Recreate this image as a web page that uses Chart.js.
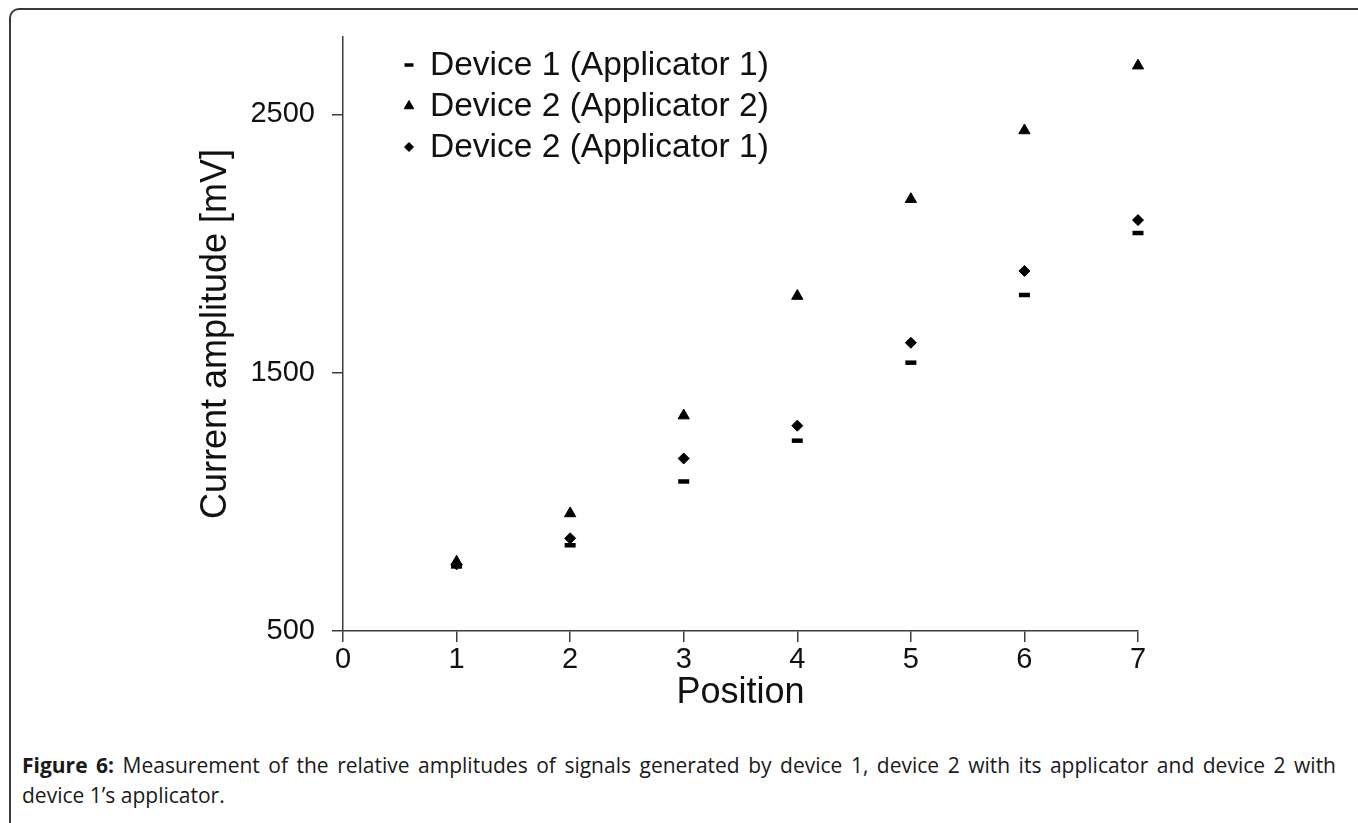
<!DOCTYPE html>
<html>
<head>
<meta charset="utf-8">
<script src="https://cdn.jsdelivr.net/npm/chart.js@4.4.1/dist/chart.umd.min.js"></script>
<style>
  html, body { margin: 0; padding: 0; background: #fff; width: 1358px; height: 823px; overflow: hidden; }
  #frame { position: absolute; left: 9px; top: 8px; width: 1400px; height: 900px; border: 2px solid #3a3a3a; border-radius: 10px; box-sizing: border-box; }
  #wrap { position: absolute; left: 0; top: 0; width: 1358px; height: 740px; }
  #caption { position: absolute; left: 22px; top: 750px; width: 1314px; font-family: "Open Sans", sans-serif; font-size: 21px; line-height: 30px; color: #1a1a1a; text-align: justify; }
  #caption b { font-weight: 700; }
</style>
</head>
<body>
<div id="frame"></div>
<div id="wrap"><canvas id="c"></canvas></div>
<div id="caption"><b>Figure 6:</b> Measurement of the relative amplitudes of signals generated by device 1, device 2 with its applicator and device 2 with device 1’s applicator.</div>
<script>
const positions = [1, 2, 3, 4, 5, 6, 7];
const device1App1 = [750, 832, 1079, 1237, 1539, 1801, 2041];
const device2App2 = [768, 955, 1334, 1797, 2172, 2438, 2689];
const device2App1 = [758, 859, 1168, 1295, 1616, 1894, 2091];
const seriesLabels = ['Device 1 (Applicator 1)', 'Device 2 (Applicator 2)', 'Device 2 (Applicator 1)'];
const yTickValues = [500, 1500, 2500];
const xTickValues = [0, 1, 2, 3, 4, 5, 6, 7];

const toPts = arr => positions.map((p, i) => ({ x: p, y: arr[i] }));
const FONT = '"Liberation Sans", Arial, sans-serif';
const AX = '#3c3c3c';

const legendPlugin = {
  id: 'insideLegend',
  afterDraw(chart) {
    const ctx = chart.ctx;
    const rows = [65, 106, 147];
    chart.data.datasets.forEach((ds, i) => {
      const y = rows[i];
      ctx.save();
      ctx.fillStyle = '#000';
      ctx.strokeStyle = '#000';
      ctx.lineWidth = ds.legendBorder;
      if (Chart.helpers && Chart.helpers.drawPoint) {
        Chart.helpers.drawPoint(ctx, { pointStyle: ds.pointStyle, radius: ds.legendRadius, borderWidth: ds.legendBorder, rotation: 0 }, 409, y);
      }
      ctx.restore();
      ctx.save();
      ctx.font = '33.5px ' + FONT;
      ctx.fillStyle = '#111';
      ctx.textBaseline = 'middle';
      ctx.fillText(ds.label, 430, y + 1);
      ctx.restore();
    });
  }
};

const mk = (label, data, style, r, bw, lr, lb) => ({
  label, data: toPts(data), pointStyle: style, pointRadius: r, pointHoverRadius: r,
  backgroundColor: '#000', borderColor: '#000', borderWidth: bw, showLine: false, clip: false,
  legendRadius: lr, legendBorder: lb
});

new Chart(document.getElementById('c'), {
  type: 'scatter',
  data: {
    datasets: [
      mk(seriesLabels[0], device1App1, 'line', 5.5, 4.5, 4.5, 3.5),
      mk(seriesLabels[1], device2App2, 'triangle', 6.5, 1, 5.5, 1),
      mk(seriesLabels[2], device2App1, 'rectRot', 5.5, 1, 4.5, 1)
    ]
  },
  options: {
    responsive: true,
    maintainAspectRatio: false,
    animation: false,
    events: [],
    layout: { padding: { left: 190, top: 37, right: 220, bottom: 21 } },
    plugins: { legend: { display: false }, tooltip: { enabled: false } },
    scales: {
      x: {
        type: 'linear', min: 0, max: 7,
        afterBuildTicks: s => { s.ticks = xTickValues.map(v => ({ value: v })); },
        afterFit: s => { s.height = 88; },
        ticks: { font: { family: FONT, size: 29 }, color: '#111', padding: 1, maxRotation: 0, callback: v => String(v) },
        grid: { display: true, drawOnChartArea: false, drawTicks: true, tickLength: 11, color: AX, lineWidth: 1.5 },
        border: { display: true, color: AX, width: 1.5 },
        title: { display: true, text: 'Position', font: { family: FONT, size: 36 }, color: '#111', padding: 4 }
      },
      y: {
        type: 'linear', min: 500, max: 2800,
        afterBuildTicks: s => { s.ticks = yTickValues.map(v => ({ value: v })); },
        afterFit: s => { s.width = 153; },
        ticks: { font: { family: FONT, size: 29 }, color: '#111', padding: 17, callback: v => String(v) },
        grid: { display: true, drawOnChartArea: false, drawTicks: true, tickLength: 11, color: AX, lineWidth: 1.5 },
        border: { display: true, color: AX, width: 1.5 },
        title: { display: true, text: 'Current amplitude [mV]', font: { family: FONT, size: 36 }, color: '#111', padding: 4 }
      }
    }
  },
  plugins: [legendPlugin]
});
</script>
</body>
</html>
